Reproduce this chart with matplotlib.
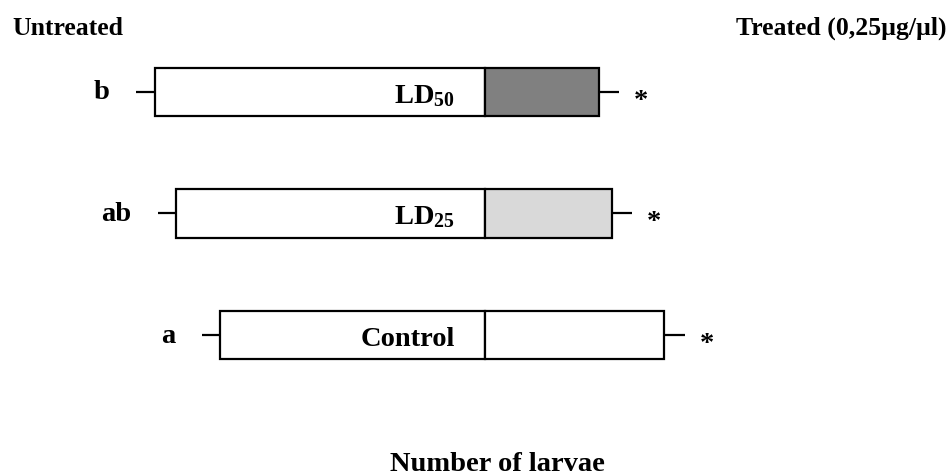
import matplotlib
matplotlib.use('Agg')
import matplotlib.pyplot as plt
import numpy as np

plt.rcParams['font.family'] = ['Liberation Serif', 'DejaVu Serif']
plt.rcParams['font.weight'] = 'bold'
plt.rcParams['mathtext.fontset'] = 'custom'
plt.rcParams['mathtext.rm'] = 'Liberation Serif:bold'
plt.rcParams['mathtext.default'] = 'rm'

# ── Data (top to bottom) ──────────────────────────────────────────────────────
groups      = ['LD$_{50}$', 'LD$_{25}$', 'Control']
letters     = ['b', 'ab', 'a']
untreated   = [33.0, 30.9, 26.5]      # left side
treated     = [11.4, 12.7, 17.9]      # right side
err_untr    = [1.9, 1.8, 1.8]
err_treat   = [2.0, 2.0, 2.1]
signif      = ['*', '*', '*']
treat_color = ['#808080', '#d9d9d9', '#ffffff']

FS = 20.5
fig = plt.figure(figsize=(9.5, 4.77), dpi=100)
ax = fig.add_axes([0, 0, 1, 1])
ax.set_xlim(-48.5, 46.5)
ax.set_ylim(3.16, -0.765)
ax.axis('off')

y = np.arange(len(groups))
untr = np.array(untreated)
trt = np.array(treated)
eu = np.array(err_untr)
et = np.array(err_treat)

bar_kw = dict(height=0.40, edgecolor='black', linewidth=1.6, zorder=2)
ax.barh(y, -untr, color='white', **bar_kw)
ax.barh(y, trt, color=treat_color, **bar_kw)

# one-sided whiskers, no caps
ax.errorbar(-untr, y, xerr=[eu, np.zeros_like(eu)], fmt='none',
            ecolor='black', elinewidth=1.6, capsize=0, zorder=1)
ax.errorbar(trt, y, xerr=[np.zeros_like(et), et], fmt='none',
            ecolor='black', elinewidth=1.6, capsize=0, zorder=1)

for i in range(len(groups)):
    ax.text(-3.0, y[i] + 0.08, groups[i], ha='right', va='baseline', fontsize=FS)
    ax.text(-untr[i] - eu[i] - 2.7, y[i], letters[i], ha='right', va='center',
            fontsize=FS)
    ax.text(trt[i] + et[i] + 2.2, y[i] + 0.12, signif[i], ha='center',
            va='baseline', fontsize=FS)

fig.text(12 / 950, 1 - 35 / 477, 'Untreated', ha='left', va='baseline', fontsize=18.5)
fig.text(947 / 950, 1 - 35 / 477, 'Treated (0,25µg/µl)', ha='right', va='baseline',
         fontsize=18.5)
fig.text(497 / 950, 1 - 471 / 477, 'Number of larvae', ha='center', va='baseline',
         fontsize=FS)

fig.savefig('out.png', dpi=100, facecolor='white')
